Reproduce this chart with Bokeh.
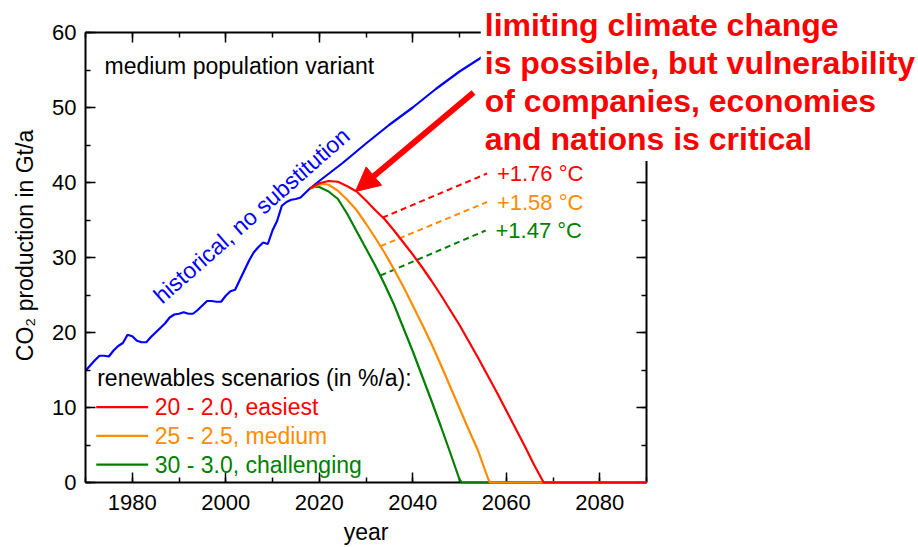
import math
from bokeh.plotting import figure
from bokeh.models import (Range1d, LinearAxis, SingleIntervalTicker, Label, Arrow,
                          NormalHead, CustomJSTickFormatter)
from bokeh.embed import file_html
from bokeh.resources import INLINE

FONT = "Liberation Sans"

# ---------------- data ----------------
hist_years = list(range(1970, 2019))
hist_co2 = [14.9, 15.6, 16.3, 16.9, 16.9, 16.8, 17.6, 18.2, 18.6, 19.7,
            19.5, 18.9, 18.7, 18.7, 19.4, 20.0, 20.6, 21.2, 22.0, 22.4,
            22.5, 22.7, 22.5, 22.5, 23.0, 23.6, 24.2, 24.2, 24.1, 24.1,
            24.9, 25.5, 25.7, 27.0, 28.3, 29.6, 30.7, 31.4, 32.0, 31.8,
            33.6, 34.9, 36.9, 37.4, 37.7, 37.8, 38.0, 38.6, 39.2]

proj_years = [2018, 2020, 2025, 2030, 2035, 2040, 2045, 2050, 2055, 2060, 2065]
proj_co2 = [39.2, 40.2, 42.6, 45.2, 47.7, 50.0, 52.5, 54.8, 56.8, 58.6, 60.3]

red_years = [2018, 2020, 2022, 2024, 2026, 2028, 2030, 2032, 2034, 2036, 2038,
             2040, 2042, 2044, 2046, 2048, 2050, 2052, 2054, 2056, 2058, 2060,
             2062, 2064, 2066, 2068, 2090]
red_co2 = [39.2, 39.9, 40.2, 40.1, 39.5, 38.8, 37.6, 36.3, 35.1, 33.6, 32.0,
           30.4, 28.7, 26.9, 25.0, 23.0, 21.0, 18.8, 16.6, 14.3, 12.0, 9.6,
           7.2, 4.8, 2.3, 0.0, 0.0]

orange_years = [2018, 2020, 2021, 2022, 2024, 2026, 2028, 2030, 2032, 2034, 2036,
                2038, 2040, 2042, 2044, 2046, 2048, 2050, 2052, 2054, 2056, 2056.5, 2090]
orange_co2 = [39.2, 39.7, 39.8, 39.7, 38.9, 37.7, 36.3, 34.5, 32.6, 30.6, 28.4,
              26.1, 23.6, 21.1, 18.5, 15.7, 12.8, 9.9, 7.0, 4.2, 0.7, 0.0, 0.0]

green_years = [2018, 2019, 2020, 2021, 2022, 2024, 2026, 2028, 2030, 2032, 2034,
               2036, 2038, 2040, 2042, 2044, 2046, 2048, 2050, 2050.5, 2090]
green_co2 = [39.2, 39.4, 39.4, 39.1, 38.8, 37.8, 35.8, 33.5, 31.2, 28.9, 26.4,
             23.7, 20.6, 17.5, 14.2, 10.9, 7.5, 4.0, 0.4, 0.0, 0.0]

scenario_names = ["20 - 2.0, easiest", "25 - 2.5, medium", "30 - 3.0, challenging"]
scenario_colors = ["#FF0000", "#FF8C00", "#008000"]

warming_labels = ["+1.76 °C", "+1.58 °C", "+1.47 °C"]
warm_x0 = [2033.5, 2033.1, 2033.1]
warm_y0 = [35.3, 31.5, 27.6]
warm_x1 = [2055.9, 2055.9, 2055.6]
warm_y1 = [41.2, 37.4, 33.6]

x_min, x_max = 1970, 2090
y_min, y_max = 0, 60
x_ticks_interval = 20
y_ticks_interval = 10

message = ("limiting climate change\nis possible, but vulnerability\n"
           "of companies, economies\nand nations is critical")

# ---------------- figure: the frame fills the canvas, the axes sit at fixed data locations ----
W, H = 918, 547
BOX_LEFT, BOX_BOTTOM = 85, 65          # px from the canvas left / bottom to the axis box
PX_PER_YEAR = 4.675
PX_PER_UNIT = 7.5
x_start = x_min - BOX_LEFT / PX_PER_YEAR
x_end = x_min + (W - BOX_LEFT) / PX_PER_YEAR
y_start = y_min - BOX_BOTTOM / PX_PER_UNIT
y_end = y_min + (H - BOX_BOTTOM) / PX_PER_UNIT

p = figure(width=W, height=H, x_range=Range1d(x_start, x_end), y_range=Range1d(y_start, y_end),
           x_axis_type=None, y_axis_type=None, output_backend="svg",
           toolbar_location=None, min_border=0)
p.outline_line_color = None
p.background_fill_color = "white"
p.border_fill_color = "white"


def style_axis(ax, show_labels, standoff=9):
    ax.axis_line_width = 2
    ax.axis_line_color = "black"
    ax.major_tick_in = 10
    ax.major_tick_out = 0
    ax.minor_tick_in = 5
    ax.minor_tick_out = 0
    ax.major_tick_line_width = 1.5
    ax.minor_tick_line_width = 1.5
    ax.major_label_text_font = FONT
    if show_labels:
        ax.major_label_text_font_size = "22px"
        ax.major_label_text_color = "black"
        ax.major_label_standoff = standoff
    else:
        ax.formatter = CustomJSTickFormatter(code="return ''")
        ax.major_label_text_font_size = "0px"
        ax.major_label_standoff = 0


xb = LinearAxis(ticker=SingleIntervalTicker(interval=x_ticks_interval, num_minor_ticks=2),
                bounds=(x_min, x_max), fixed_location=y_min)
style_axis(xb, True, 12)
p.add_layout(xb, "below")

xt = LinearAxis(ticker=SingleIntervalTicker(interval=x_ticks_interval, num_minor_ticks=2),
                bounds=(x_min, x_max), fixed_location=y_max)
style_axis(xt, False)
p.add_layout(xt, "above")

yl = LinearAxis(ticker=SingleIntervalTicker(interval=y_ticks_interval, num_minor_ticks=2),
                bounds=(y_min, y_max), fixed_location=x_min)
style_axis(yl, True, 9)
p.add_layout(yl, "left")

yr = LinearAxis(ticker=SingleIntervalTicker(interval=y_ticks_interval, num_minor_ticks=2),
                bounds=(y_min, y_max), fixed_location=x_max)
style_axis(yr, False)
p.add_layout(yr, "right")

# axis titles
p.add_layout(Label(x=(x_min + x_max) / 2, y=y_min - 49.5 / PX_PER_UNIT, text="year",
                   text_font=FONT, text_font_size="23px", text_color="black",
                   text_align="center", text_baseline="middle"))
p.add_layout(Label(x=x_min - 61 / PX_PER_YEAR, y=31.6, text="CO₂ production in Gt/a",
                   text_font=FONT, text_font_size="23px", text_color="black",
                   angle=math.pi / 2, text_align="center", text_baseline="middle"))

# scenario curves (green, orange, red), then blue
lw = 2.2
for yrs, vals, col in [(green_years, green_co2, scenario_colors[2]),
                       (orange_years, orange_co2, scenario_colors[1]),
                       (red_years, red_co2, scenario_colors[0])]:
    r = p.line(yrs, vals, line_color=col, line_width=lw)
    r.level = "overlay"

p.line(hist_years + proj_years[1:], hist_co2 + proj_co2[1:], line_color="#0000FF", line_width=lw)

# dashed warming lines and labels
for i in range(3):
    p.line([warm_x0[i], warm_x1[i]], [warm_y0[i], warm_y1[i]], line_color=scenario_colors[i],
           line_width=2, line_dash="6 4")
    p.add_layout(Label(x=warm_x1[i] + 2.1, y=warm_y1[i], text=warming_labels[i],
                       text_font=FONT, text_font_size="22px", text_color=scenario_colors[i],
                       text_align="left", text_baseline="middle"))

# texts
p.add_layout(Label(x=1974.06, y=55.6, text="medium population variant", text_font=FONT,
                   text_font_size="23px", text_color="black", text_baseline="middle"))
p.add_layout(Label(x=2005.5, y=35.6, text="historical, no substitution", text_font=FONT,
                   text_font_size="23px", text_color="#0000FF", angle=0.721,
                   text_align="center", text_baseline="alphabetic"))

# legend
p.add_layout(Label(x=1972.5, y=13.87, text="renewables scenarios (in %/a):", text_font=FONT,
                   text_font_size="23px", text_color="black", text_baseline="middle"))
row_y0, row_step = 10.04, 3.83
for i, (name, col) in enumerate(zip(scenario_names, scenario_colors)):
    yy = row_y0 - i * row_step
    p.line([1972.3, 1983.4], [yy, yy], line_color=col, line_width=2.2)
    p.add_layout(Label(x=1984.8, y=yy, text=name, text_font=FONT, text_font_size="23px",
                       text_color=col, text_baseline="middle"))

# arrow and message
p.add_layout(Arrow(end=NormalHead(size=24, fill_color="#FF0000", line_color="#FF0000"),
                   x_start=2053.0, y_start=52.0, x_end=2027.75, y_end=38.8,
                   line_color="#FF0000", line_width=6))
p.add_layout(Label(x=2054.55, y=64.0, text=message, text_font=FONT, text_font_size="32px",
                   text_font_style="bold", text_color="#FF0000", text_align="left",
                   text_baseline="top", text_line_height=1.06,
                   background_fill_color="white", padding=4))

open("out.html", "w").write(file_html(p, INLINE))
